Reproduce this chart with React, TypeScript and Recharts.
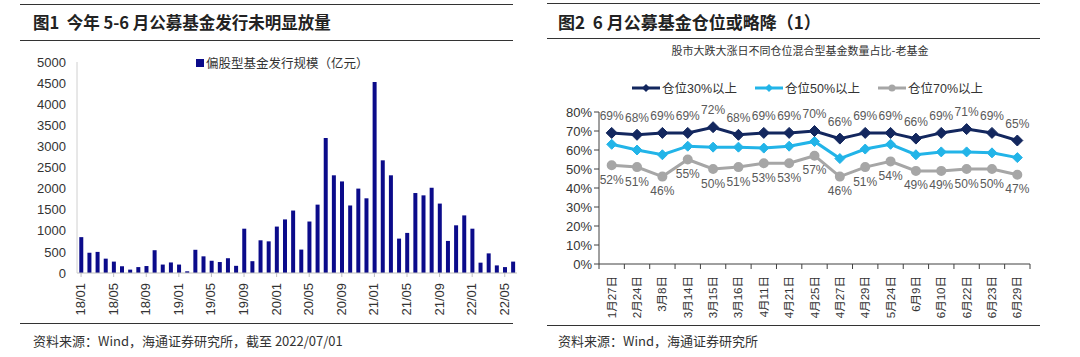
import { BarChart, Bar, LineChart, Line, XAxis, YAxis, LabelList } from 'recharts';

const months = [
  '18/01', '18/02', '18/03', '18/04', '18/05', '18/06', '18/07', '18/08', '18/09', '18/10', '18/11', '18/12',
  '19/01', '19/02', '19/03', '19/04', '19/05', '19/06', '19/07', '19/08', '19/09', '19/10', '19/11', '19/12',
  '20/01', '20/02', '20/03', '20/04', '20/05', '20/06', '20/07', '20/08', '20/09', '20/10', '20/11', '20/12',
  '21/01', '21/02', '21/03', '21/04', '21/05', '21/06', '21/07', '21/08', '21/09', '21/10', '21/11', '21/12',
  '22/01', '22/02', '22/03', '22/04', '22/05', '22/06',
];
const issuance = [
  850, 480, 500, 340, 270, 160, 80, 140, 165, 540, 200, 250,
  200, 40, 550, 395, 290, 260, 350, 170, 1050, 280, 775, 750,
  1100, 1270, 1480, 555, 1220, 1620, 3200, 2315, 2170, 1600, 2000, 1770,
  4525, 2670, 2315, 815, 950, 1895, 1840, 2020, 1645, 760, 1130, 1365,
  1050, 245, 465, 180, 140, 270,
];
const barTicks = [0, 500, 1000, 1500, 2000, 2500, 3000, 3500, 4000, 4500, 5000];

const dates = [
  '1月27日', '2月24日', '3月8日', '3月14日', '3月15日', '3月16日', '4月11日', '4月21日', '4月25日',
  '4月27日', '4月29日', '5月24日', '6月9日', '6月10日', '6月22日', '6月23日', '6月29日',
];
const pos30 = [69, 68, 69, 69, 72, 68, 69, 69, 70, 66, 69, 69, 66, 69, 71, 69, 65];
const pos50 = [63, 60, 57.5, 62, 61.5, 61.5, 61, 62, 64.5, 55.5, 60.5, 63, 57.5, 59, 59, 58.5, 56];
const pos70 = [52, 51, 46, 55, 50, 51, 53, 53, 57, 46, 51, 54, 49, 49, 50, 50, 47];
const pctTicks = [0, 10, 20, 30, 40, 50, 60, 70, 80];

const barData = months.map((m, i) => ({ month: m, value: issuance[i] }));
const lineData = dates.map((d, i) => ({ date: d, p30: pos30[i], p50: pos50[i], p70: pos70[i] }));

const FONT = "'Liberation Sans', 'Noto Sans CJK SC', sans-serif";
const CJK = "'Noto Sans CJK SC', 'Liberation Sans', sans-serif";
const NAVY = '#0b0b8a';
const C30 = '#13275e';
const C50 = '#22b4e8';
const C70 = '#a6a6a6';

const LINE_W = 530;
const LINE_M = { top: 112, right: 40, bottom: 0, left: 9 };
const LINE_YW = 50;
const step = (LINE_W - LINE_M.left - LINE_YW - LINE_M.right) / dates.length;

const BarTick = (props: any) => {
  const { x, y, payload } = props;
  return (
    <g transform={`translate(${x},${y + 4})`}>
      <text transform="rotate(-90)" textAnchor="end" dy={4} fontSize={13} fill="#333" fontFamily={FONT}>
        {payload.value}
      </text>
    </g>
  );
};

const DateTick = (props: any) => {
  const { x, y, payload, index } = props;
  const last = index === dates.length - 1;
  return (
    <g>
      <line x1={x - step / 2} x2={x - step / 2} y1={y - 8} y2={y - 3} stroke="#404040" />
      {last && <line x1={x + step / 2} x2={x + step / 2} y1={y - 8} y2={y - 3} stroke="#404040" />}
      <g transform={`translate(${x},${y + 4})`}>
        <text transform="rotate(-90)" textAnchor="end" dy={4} fontSize={11.5} fill="#333" fontFamily={FONT}>
          {payload.value}
        </text>
      </g>
    </g>
  );
};

const Diamond = (color: string, r: number) => (props: any) => {
  const { cx, cy, index } = props;
  if (cx == null || cy == null) return <g key={index} />;
  return (
    <path
      key={index}
      d={`M${cx},${cy - r} L${cx + r},${cy} L${cx},${cy + r} L${cx - r},${cy} Z`}
      fill={color}
      stroke={color}
    />
  );
};

const lineItems = [
  { name: '仓位30%以上', color: C30, dot: 'diamond' },
  { name: '仓位50%以上', color: C50, dot: 'diamond' },
  { name: '仓位70%以上', color: C70, dot: 'circle' },
];

const hr = (left: number, top: number, width: number) => (
  <div style={{ position: 'absolute', left, top, width, height: 0, borderTop: '1.5px solid #333' }} />
);

const App = () => {
  return (
    <div style={{ position: 'absolute', left: 0, top: 0, width: 1080, height: 357, background: '#fff', overflow: 'hidden' }}>
      {/* left panel */}
      {hr(20, 4, 493)}
      <div style={{ position: 'absolute', left: 33, top: 10, fontFamily: CJK, fontWeight: 700, fontSize: 16.5, color: '#222', whiteSpace: 'nowrap' }}>
        图1&nbsp;&nbsp;今年 5-6 月公募基金发行未明显放量
      </div>
      {hr(20, 40, 493)}
      <div style={{ position: 'absolute', left: 0, top: 0 }}>
        <BarChart width={530} height={330} data={barData} margin={{ top: 62, right: 13, bottom: 0, left: 20 }} barCategoryGap="28%">
          <XAxis
            dataKey="month"
            interval={3}
            tick={<BarTick />}
            tickLine={{ stroke: '#bfbfbf' }}
            tickSize={4}
            axisLine={{ stroke: '#bfbfbf' }}
            height={57}
          />
          <YAxis
            width={57}
            domain={[0, 5000]}
            ticks={barTicks}
            interval={0}
            tickLine={false}
            axisLine={{ stroke: '#d0d0d0' }}
            tick={{ fontSize: 13, fill: '#333', fontFamily: FONT }}
            tickMargin={5}
          />
          <Bar dataKey="value" fill={NAVY} isAnimationActive={false} />
        </BarChart>
      </div>
      <div style={{ position: 'absolute', left: 196, top: 53, display: 'flex', alignItems: 'center', fontFamily: CJK, fontSize: 12.5, color: '#333', whiteSpace: 'nowrap' }}>
        <span style={{ width: 8, height: 8, background: NAVY, display: 'inline-block', marginRight: 2 }} />
        偏股型基金发行规模（亿元）
      </div>
      {hr(20, 323, 493)}
      <div style={{ position: 'absolute', left: 33, top: 331, fontFamily: CJK, fontSize: 13, color: '#333', whiteSpace: 'nowrap' }}>
        资料来源：Wind，海通证券研究所，截至 2022/07/01
      </div>

      {/* right panel */}
      {hr(547, 3, 493)}
      <div style={{ position: 'absolute', left: 558, top: 9, fontFamily: CJK, fontWeight: 700, fontSize: 17, color: '#222', whiteSpace: 'nowrap' }}>
        图2&nbsp;&nbsp;6 月公募基金仓位或略降（1）
      </div>
      {hr(547, 38, 493)}
      <div style={{ position: 'absolute', left: 540, top: 42, width: 520, textAlign: 'center', fontFamily: CJK, fontSize: 11, color: '#333' }}>
        股市大跌大涨日不同仓位混合型基金数量占比-老基金
      </div>
      <div style={{ position: 'absolute', left: 540, top: 0 }}>
        <LineChart width={LINE_W} height={330} data={lineData} margin={LINE_M}>
          <XAxis
            dataKey="date"
            interval={0}
            tick={<DateTick />}
            tickLine={false}
            axisLine={{ stroke: '#404040' }}
            padding={{ left: step / 2, right: step / 2 }}
            height={66}
          />
          <YAxis
            width={LINE_YW}
            domain={[0, 80]}
            ticks={pctTicks}
            interval={0}
            tickFormatter={(v: number) => `${v}%`}
            tickLine={{ stroke: '#404040' }}
            tickSize={5}
            axisLine={{ stroke: '#404040' }}
            tick={{ fontSize: 13, fill: '#333', fontFamily: FONT }}
          />
          <Line dataKey="p70" stroke={C70} strokeWidth={3} dot={{ r: 3.5, fill: C70, stroke: C70 }} isAnimationActive={false}>
            <LabelList dataKey="p70" position="bottom" offset={10} formatter={(v: any) => `${v}%`} fontSize={12} fill="#595959" fontFamily={FONT} />
          </Line>
          <Line dataKey="p50" stroke={C50} strokeWidth={3} dot={Diamond(C50, 5)} isAnimationActive={false} />
          <Line dataKey="p30" stroke={C30} strokeWidth={3} dot={Diamond(C30, 5.5)} isAnimationActive={false}>
            <LabelList dataKey="p30" position="top" offset={13} formatter={(v: any) => `${v}%`} fontSize={12} fill="#595959" fontFamily={FONT} />
          </Line>
        </LineChart>
      </div>
      <div style={{ position: 'absolute', left: 632, top: 78, display: 'flex', alignItems: 'center', fontFamily: FONT, fontSize: 12.5, color: '#333', whiteSpace: 'nowrap' }}>
        {lineItems.map((it) => (
          <div key={it.name} style={{ display: 'flex', alignItems: 'center', marginRight: 18 }}>
            <svg width={28} height={10}>
              <line x1={0} x2={28} y1={5} y2={5} stroke={it.color} strokeWidth={3} />
              {it.dot === 'diamond' ? (
                <path d="M14,1 L18,5 L14,9 L10,5 Z" fill={it.color} />
              ) : (
                <circle cx={14} cy={5} r={3.5} fill={it.color} />
              )}
            </svg>
            <span style={{ marginLeft: 2 }}>{it.name}</span>
          </div>
        ))}
      </div>
      {hr(547, 325, 493)}
      <div style={{ position: 'absolute', left: 558, top: 331, fontFamily: CJK, fontSize: 13, color: '#333', whiteSpace: 'nowrap' }}>
        资料来源：Wind，海通证券研究所
      </div>
    </div>
  );
};

export default App;
